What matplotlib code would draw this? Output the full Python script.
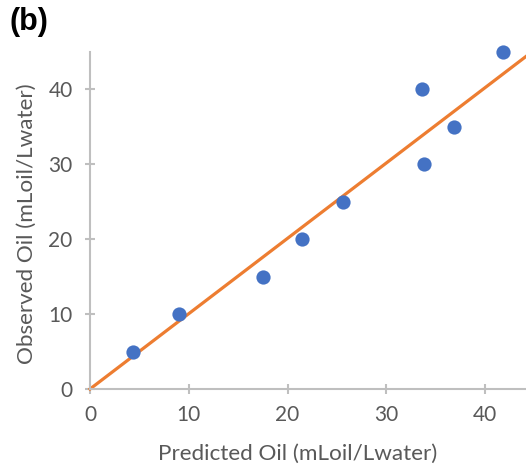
import numpy as np
import matplotlib
matplotlib.use("Agg")
import matplotlib.pyplot as plt

plt.rcParams.update({
    "font.family": ["Lato", "DejaVu Sans"],
})

# predicted vs observed oil content
predicted = [4.4, 9.0, 17.5, 21.5, 25.6, 33.6, 33.8, 36.9, 41.8]
observed = [5, 10, 15, 20, 25, 40, 30, 35, 45]

# trend line through the origin
slope = 1.005

x_ticks = [0, 10, 20, 30, 40]
y_ticks = [0, 10, 20, 30, 40]

grey = "#bfbfbf"
text_grey = "#595959"

fig = plt.figure(figsize=(5.26, 4.66), dpi=100)
ax = fig.add_axes([0.1711, 0.1652, 0.8289, 0.7238])

xs = np.array([0, 44.2])
ax.plot(xs, slope * xs, color="#ED7D31", linewidth=2.3, zorder=2, clip_on=False)
ax.scatter(predicted, observed, s=105, color="#4472C4", zorder=3, clip_on=False,
           linewidths=0)

ax.set_xlim(0, 44.15)
ax.set_ylim(0, 45)
ax.set_xticks(x_ticks)
ax.set_yticks(y_ticks)

for side in ["top", "right"]:
    ax.spines[side].set_visible(False)
for side in ["left", "bottom"]:
    ax.spines[side].set_color(grey)
    ax.spines[side].set_linewidth(1.5)

ax.tick_params(direction="inout", length=7, width=1.5, color=grey,
               labelcolor=text_grey, labelsize=15)
ax.tick_params(axis="x", pad=8)
ax.tick_params(axis="y", pad=9)

ax.set_xlabel("Predicted Oil (mLoil/Lwater)", fontsize=16.2, color=text_grey)
ax.set_ylabel("Observed Oil (mLoil/Lwater)", fontsize=16.2, color=text_grey)
ax.xaxis.set_label_coords(0.477, -0.163)
ax.yaxis.set_label_coords(-0.122, 0.489)

fig.text(0.018, 0.985, "(b)", fontsize=22, fontweight="bold", va="top",
         family=["Liberation Sans", "DejaVu Sans"])

fig.savefig("out.png", dpi=100)
